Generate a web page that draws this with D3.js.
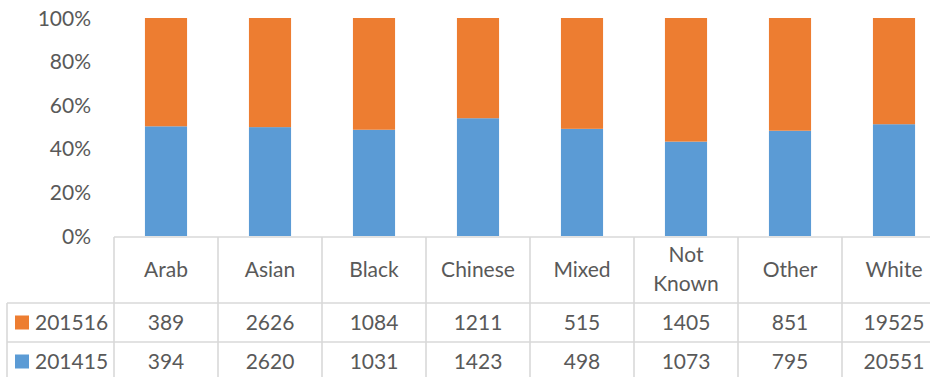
<!DOCTYPE html>
<html>
<head>
<meta charset="utf-8">
<script src="https://cdn.jsdelivr.net/npm/d3@7"></script>
<style>
  html, body { margin: 0; padding: 0; background: #fff; overflow: hidden; }
  svg { display: block; font-family: Lato, "Open Sans", sans-serif; }
</style>
</head>
<body>
<svg id="chart" width="930" height="377"></svg>
<script>
// Ethnicity groups shown along the category axis
const categories = ["Arab", "Asian", "Black", "Chinese", "Mixed", "Not Known", "Other", "White"];
// Headcounts per year
const values201415 = [394, 2620, 1031, 1423, 498, 1073, 795, 20551];
const values201516 = [389, 2626, 1084, 1211, 515, 1405, 851, 19525];
// Series in stacking order (bottom first) and table row order (top first)
const seriesNames = ["201415", "201516"];
const tableRows = ["201516", "201415"];
const yTicks = [0, 0.2, 0.4, 0.6, 0.8, 1.0];

const colors = { "201415": "#5B9BD5", "201516": "#ED7D31" };
const textColor = "#595959";
const gridColor = "#D9D9D9";
const fontSize = 21;

const svg = d3.select("#chart");

const plotLeft = 114, plotRight = 946;
const plotTop = 18, plotBottom = 236;
const tableLeft = 7;
const headerBottom = 303, row1Bottom = 342, tableBottom = 381;

const x = d3.scaleBand().domain(categories).range([plotLeft, plotRight]).padding(0);
const barWidth = x.bandwidth() * 0.405;
const y = d3.scaleLinear().domain([0, 1]).range([plotBottom, plotTop]);

// Normalised stack (100% columns)
const rows = categories.map((c, i) => ({
  cat: c,
  "201415": values201415[i],
  "201516": values201516[i]
}));
const stack = d3.stack().keys(seriesNames).offset(d3.stackOffsetExpand);
const stacked = stack(rows);

svg.append("g").selectAll("g")
  .data(stacked)
  .join("g")
  .attr("fill", d => colors[d.key])
  .selectAll("rect")
  .data(d => d)
  .join("rect")
  .attr("x", d => x(d.data.cat) + (x.bandwidth() - barWidth) / 2)
  .attr("width", barWidth)
  .attr("y", d => y(d[1]))
  .attr("height", d => y(d[0]) - y(d[1]));

// Value axis
const yAxis = d3.axisLeft(y).tickValues(yTicks).tickFormat(d3.format(".0%")).tickSize(0).tickPadding(0);
const gy = svg.append("g").attr("transform", `translate(91,0)`).call(yAxis);
gy.select(".domain").remove();
gy.selectAll("text")
  .attr("fill", textColor)
  .style("font-size", fontSize + "px")
  .style("font-family", "Lato, 'Open Sans', sans-serif")
  .attr("dy", "0.34em");

// Data table grid
const grid = svg.append("g").attr("stroke", gridColor).attr("stroke-width", 1.6).attr("fill", "none");
grid.append("line").attr("x1", plotLeft).attr("x2", 930).attr("y1", plotBottom + 1).attr("y2", plotBottom + 1);
grid.append("line").attr("x1", tableLeft).attr("x2", 930).attr("y1", headerBottom).attr("y2", headerBottom);
grid.append("line").attr("x1", tableLeft).attr("x2", 930).attr("y1", row1Bottom).attr("y2", row1Bottom);
grid.append("line").attr("x1", tableLeft).attr("x2", tableLeft).attr("y1", headerBottom).attr("y2", tableBottom);
grid.selectAll("line.col")
  .data(categories)
  .join("line")
  .attr("class", "col")
  .attr("x1", d => x(d)).attr("x2", d => x(d))
  .attr("y1", plotBottom + 1).attr("y2", tableBottom);

// Header row: category names (wrapped where they have two words)
const headerMid = (plotBottom + headerBottom) / 2;
const header = svg.append("g")
  .attr("fill", textColor)
  .style("font-size", fontSize + "px")
  .attr("text-anchor", "middle");
header.selectAll("text")
  .data(categories)
  .join("text")
  .attr("x", d => x(d) + x.bandwidth() / 2)
  .attr("y", headerMid)
  .each(function (d) {
    const words = d.split(" ");
    const lineH = 29;
    const start = -(words.length - 1) * lineH / 2;
    d3.select(this).selectAll("tspan")
      .data(words)
      .join("tspan")
      .attr("x", x(d) + x.bandwidth() / 2)
      .attr("dy", (w, i) => i === 0 ? start + 7 : lineH)
      .text(w => w);
  });

// Value rows with legend keys
const seriesValues = { "201415": values201415, "201516": values201516 };
const rowMids = [(headerBottom + row1Bottom) / 2, (row1Bottom + tableBottom) / 2];
tableRows.forEach((key, r) => {
  const g = svg.append("g").attr("fill", textColor).style("font-size", fontSize + "px");
  const mid = rowMids[r];
  g.append("rect")
    .attr("x", 15).attr("y", mid - 7)
    .attr("width", 14).attr("height", 14)
    .attr("fill", colors[key]);
  g.append("text")
    .attr("x", 35).attr("y", mid).attr("dy", "0.36em")
    .text(key);
  g.selectAll("text.v")
    .data(seriesValues[key])
    .join("text")
    .attr("class", "v")
    .attr("text-anchor", "middle")
    .attr("x", (v, i) => x(categories[i]) + x.bandwidth() / 2)
    .attr("y", mid).attr("dy", "0.36em")
    .text(v => v);
});
</script>
</body>
</html>
